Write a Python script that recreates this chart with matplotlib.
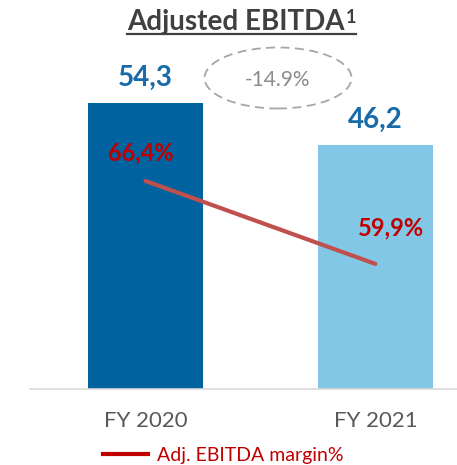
import matplotlib.pyplot as plt
from matplotlib.lines import Line2D
from matplotlib.patches import Ellipse

# data
years = ["FY 2020", "FY 2021"]
ebitda = [54.3, 46.2]
ebitda_labels = ["54,3", "46,2"]
margin = [66.4, 59.9]
margin_labels = ["66,4%", "59,9%"]
change_label = "-14.9%"

plt.rcParams['font.family'] = ['Lato', 'DejaVu Sans']

fig = plt.figure(figsize=(4.57, 4.65), dpi=100)
ax = fig.add_axes([30/457, 76/465, 427/457, 289/465])
x = range(len(years))

ax.bar(x, ebitda, width=0.5, color=["#00629F", "#83C7E6"])
ax.set_xlim(-0.502, 1.355)
ax.set_ylim(0, 54.8)

for i, v in enumerate(ebitda):
    ax.annotate(ebitda_labels[i], (i, v), xytext=(0, 18), textcoords="offset points",
                ha="center", va="center", fontsize=20, fontweight="bold",
                color="#166BA8", annotation_clip=False)

for s in ["top", "right", "left"]:
    ax.spines[s].set_visible(False)
ax.spines["bottom"].set_color("#D9D9D9")
ax.spines["bottom"].set_linewidth(1.2)
ax.set_yticks([])
ax.set_xticks(list(x))
ax.set_xticklabels(years, fontsize=16, color="#595959")
ax.tick_params(axis="x", length=0, pad=16)

# margin line on second axis
ax2 = ax.twinx()
ax2.plot(x, margin, color="#C0504D", linewidth=3, solid_capstyle="round")
ax2.set_ylim(50.1, 72.74)
ax2.axis("off")
offsets = [(-3, 20), (11, 26)]
for i, v in enumerate(margin):
    ax2.annotate(margin_labels[i], (i, v), xytext=offsets[i], textcoords="offset points",
                 ha="center", va="center", fontsize=17, fontweight="bold",
                 color="#C00000", annotation_clip=False)

# change bubble
fig.add_artist(Ellipse((278/457, 1 - 78/465), 147/457, 61/465, transform=fig.transFigure,
                       fill=False, edgecolor="#A6A6A6", linestyle=(0, (5, 3)), linewidth=1.3))
fig.text(277/457, 1 - 80/465, change_label, ha="center", va="center", fontsize=15, color="#8C8C8C")

# title with superscript and underline
title = fig.text(127/457, 1 - 22/465, "Adjusted EBITDA", ha="left", va="center",
                 fontsize=20, fontweight="bold", color="#404040")
fig.canvas.draw()
bb = title.get_window_extent().transformed(fig.transFigure.inverted())
sup = fig.text(bb.x1 + 1/457, 1 - 9/465, "1", ha="left", va="top",
               fontsize=13, fontweight="bold", color="#404040")
fig.canvas.draw()
sb = sup.get_window_extent().transformed(fig.transFigure.inverted())
fig.add_artist(Line2D([bb.x0, sb.x1], [1 - 34/465] * 2, color="#404040", linewidth=1.6,
                      transform=fig.transFigure))

# legend
handle = Line2D([], [], color="#C00000", linewidth=3)
fig.legend([handle], ["Adj. EBITDA margin%"], loc="center left", bbox_to_anchor=(103/457, 1 - 455/465),
           frameon=False, fontsize=14, labelcolor="#C00000", handlelength=2.3, handletextpad=0.5,
           borderpad=0, borderaxespad=0)

fig.savefig("out.png", dpi=100)
